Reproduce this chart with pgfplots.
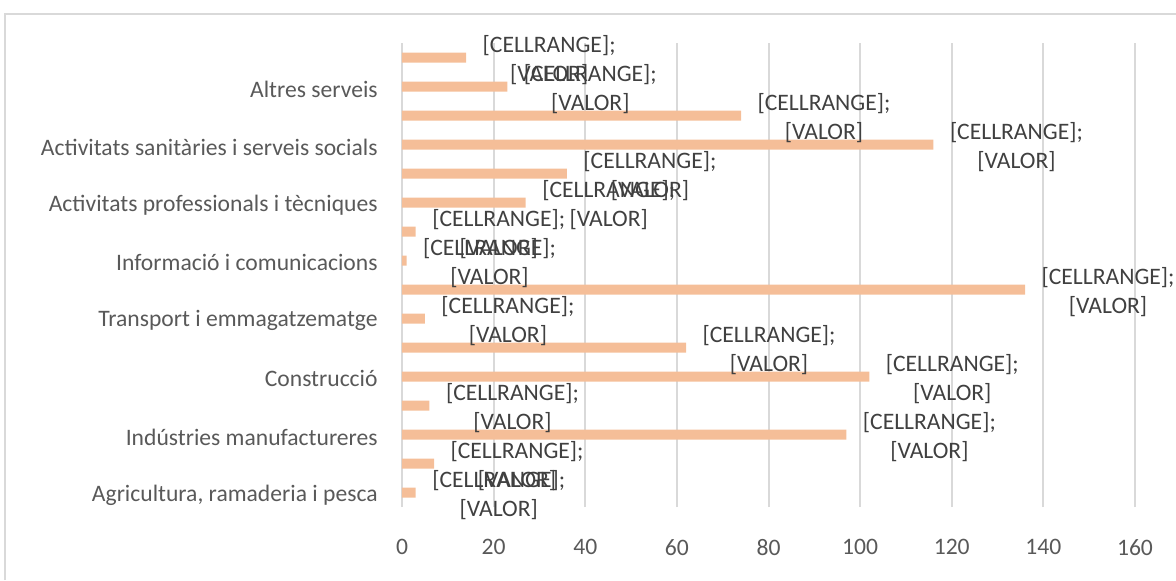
\documentclass[border=0pt]{standalone}
\usepackage{pgfplots}
\pgfplotsset{compat=1.18}
\usepackage{fontspec}
\setmainfont{Carlito}
\definecolor{barc}{HTML}{F5BE98}
\definecolor{gridc}{HTML}{D9D9D9}
\definecolor{tickc}{HTML}{595959}
\definecolor{labc}{HTML}{404040}
\newcommand\lbl{\begin{tabular}{@{}c@{}}[CELLRANGE];\\{}[VALOR]\end{tabular}}
\begin{document}
\begin{tikzpicture}
\path[use as bounding box] (-201pt,-36.5pt) rectangle (387pt,253.5pt);
\draw[gridc, line width=1pt] (-198.5pt,-36.5pt) -- (-198.5pt,246.5pt) -- (387pt,246.5pt);
\begin{axis}[
  at={(0,0)}, anchor=south west,
  scale only axis, width=366.5pt, height=232pt,
  xbar, bar width=5pt,
  xmin=0, xmax=160, ymin=-0.5, ymax=15.5,
  xtick={0,20,...,160},
  ytick={0,2,4,6,8,10,12,14},
  yticklabels={{Agricultura, ramaderia i pesca},{Indústries manufactureres},{Construcció},{Transport i emmagatzematge},{Informació i comunicacions},{Activitats professionals i tècniques},{Activitats sanitàries i serveis socials},{Altres serveis}},
  axis line style={draw=none},
  major tick length=0pt,
  xmajorgrids, grid style={draw=gridc, line width=1pt},
  /pgf/number format/assume math mode=true,
  tick label style={font=\fontsize{11.8}{14.5}\selectfont, text=tickc, inner sep=0pt},
  yticklabel style={xshift=-12pt, yshift=-1.2pt},
  xticklabel style={yshift=-16pt},
  nodes near coords={\lbl},
  every node near coord/.append style={anchor=center, xshift=41.5pt, yshift=-2pt, font=\fontsize{11.8}{14.5}\selectfont, text=labc, inner sep=0pt},
]
\addplot[fill=barc, draw=none] coordinates {
(3,0) (7,1) (97,2) (6,3) (102,4) (62,5) (5,6) (136,7)
(1,8) (3,9) (27,10) (36,11) (116,12) (74,13) (23,14) (14,15)
};
\end{axis}
\end{tikzpicture}
\end{document}
